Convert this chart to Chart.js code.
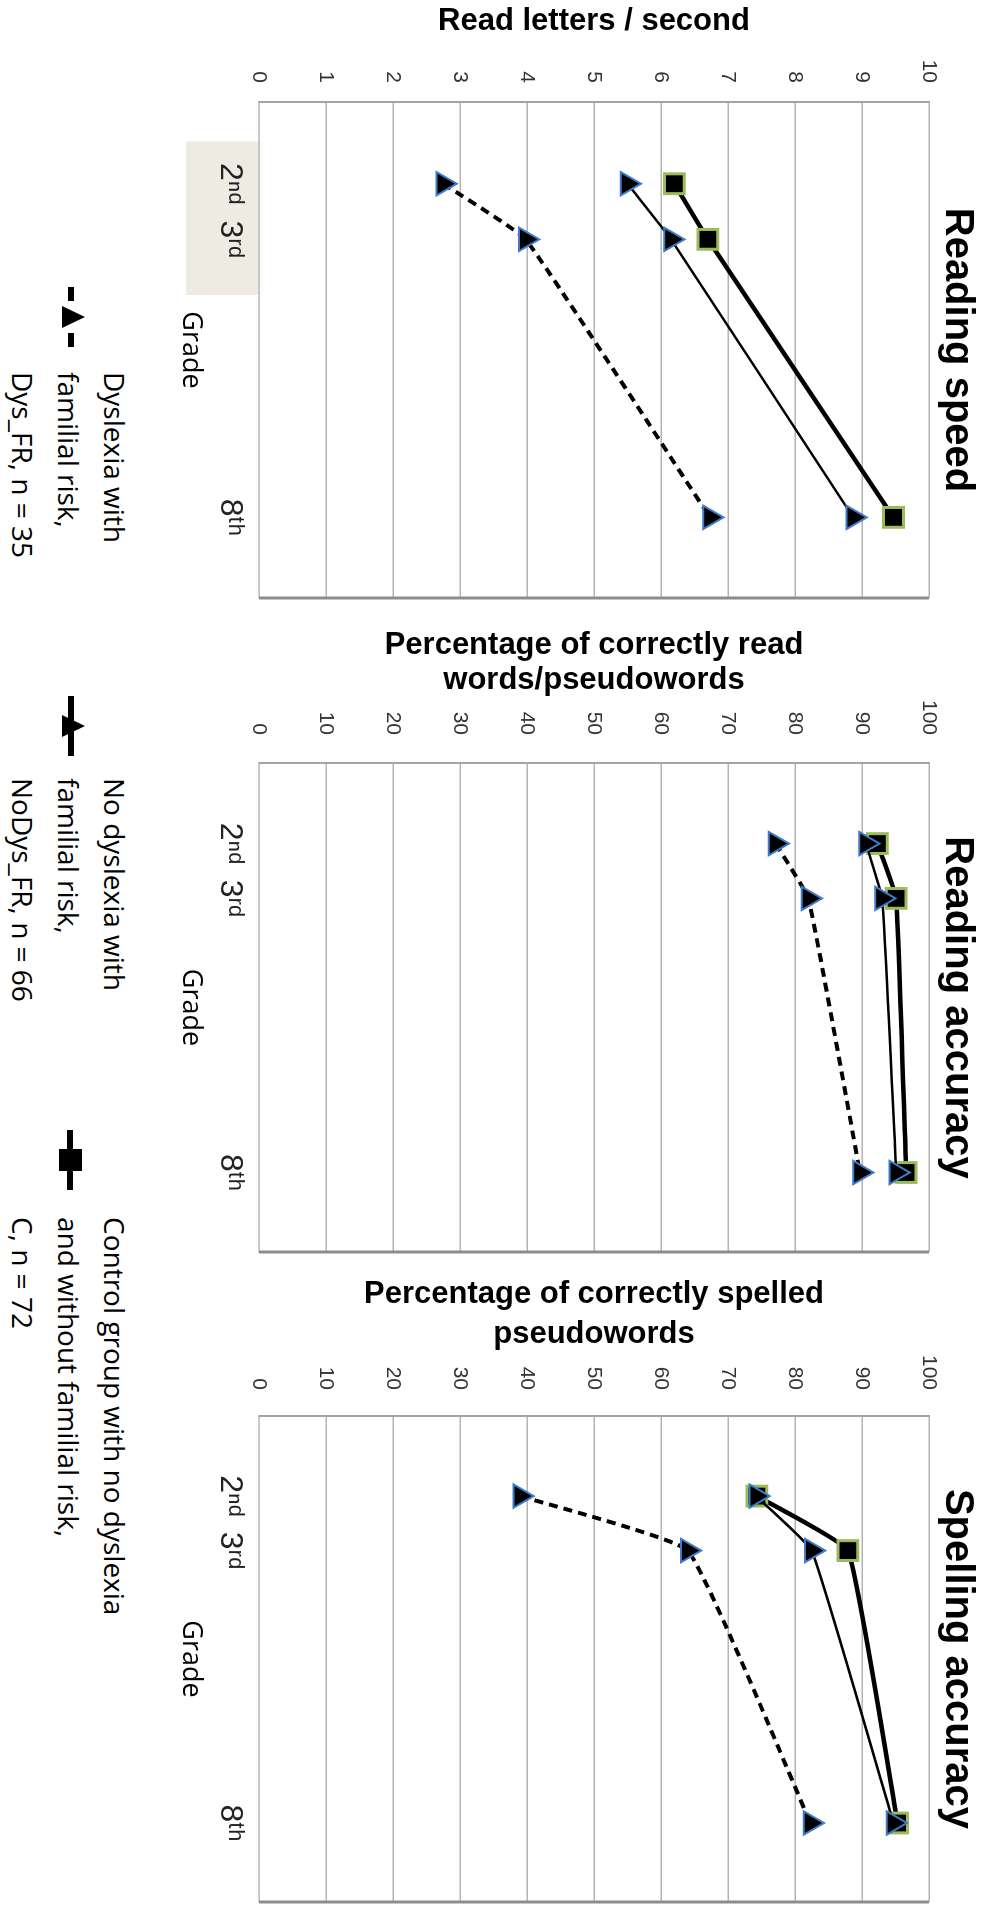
<!doctype html>
<html lang="en">
<head>
<meta charset="utf-8">
<title>Reading speed, reading accuracy and spelling accuracy by grade</title>
<style>
  html, body { margin: 0; padding: 0; background: #fff; }
  body { width: 985px; height: 1910px; overflow: hidden; position: relative; }
  /* the whole figure is laid out landscape and turned a quarter clockwise */
  #frame {
    position: absolute; left: 0; top: 0; width: 1910px; height: 985px;
    transform-origin: 0 0; transform: translate(985px, 0) rotate(90deg);
    overflow: hidden; background: #fff;
  }
  #frame canvas { position: absolute; top: 0; }
  .sym { position: absolute; top: 899px; }
  .legText {
    position: absolute; top: 847px; white-space: nowrap; color: #000;
    font-family: 'Open Sans', sans-serif; font-size: 28px; line-height: 46px;
  }
</style>
</head>
<body>
<div id="frame">
  <canvas id="speedChart" width="663" height="816" style="left:-48px"></canvas>
  <canvas id="accChart" width="656" height="816" style="left:613px"></canvas>
  <canvas id="spellChart" width="653" height="816" style="left:1266px"></canvas>

  <svg class="sym" style="left:287px" width="60" height="32">
    <line x1="0" y1="15" x2="14" y2="15" stroke="#000" stroke-width="6"/>
    <line x1="46" y1="15" x2="60" y2="15" stroke="#000" stroke-width="6"/>
    <polygon points="30,1 41,24 19,24" fill="#000"/>
  </svg>
  <div class="legText" style="left:372px">Dyslexia with<br>familial risk,<br>Dys_FR, n = 35</div>

  <svg class="sym" style="left:696px" width="60" height="32">
    <line x1="0" y1="15" x2="60" y2="15" stroke="#000" stroke-width="6"/>
    <polygon points="30,1 41,24 19,24" fill="#000"/>
  </svg>
  <div class="legText" style="left:778px">No dyslexia with<br>familial risk,<br>NoDys_FR, n = 66</div>

  <svg class="sym" style="left:1130px" width="60" height="32">
    <line x1="0" y1="16" x2="60" y2="16" stroke="#000" stroke-width="6"/>
    <rect x="19" y="4" width="22" height="23" fill="#000"/>
  </svg>
  <div class="legText" style="left:1217px">Control group with no dyslexia<br>and without familial risk,<br>C, n = 72</div>
</div>

<script src="https://cdn.jsdelivr.net/npm/chart.js/dist/chart.umd.min.js"></script>
<script>
// grades on the x axis and their labels
const grades = [2, 3, 8];
const gradeLabels = ['2ⁿᵈ', '3ʳᵈ', '8ᵗʰ'];

// reading speed, letters per second
const speedDys = [2.75, 3.98, 6.73];
const speedNoDys = [5.5, 6.15, 8.87];
const speedC = [6.2, 6.7, 9.47];

// reading accuracy, %
const accDys = [77.1, 82.0, 89.7];
const accNoDys = [90.6, 93.0, 95.1];
const accC = [92.3, 95.1, 96.6];

// spelling accuracy, %
const spellDys = [39.0, 64.0, 82.3];
const spellNoDys = [74.2, 82.5, 94.7];
const spellC = [74.3, 87.9, 95.3];

const SANS = "'Liberation Sans', Arial, sans-serif";

function series(values) {
  return grades.map((g, i) => ({ x: g, y: values[i] }));
}

// beige patch behind the 2nd/3rd labels of the first panel
const highlightBox = {
  id: 'highlightBox',
  beforeDraw(chart, args, opts) {
    if (!opts.on) return;
    const { ctx, chartArea, scales: { x } } = chart;
    const a = x.getPixelForValue(1.24), b = x.getPixelForValue(4.0);
    ctx.save();
    ctx.fillStyle = '#edebe2';
    ctx.fillRect(a, chartArea.bottom, b - a, 73);
    ctx.restore();
  }
};

// darker closing line on the far side of the plot
const edgeLine = {
  id: 'edgeLine',
  beforeDatasetsDraw(chart) {
    const { ctx, chartArea } = chart;
    ctx.save();
    ctx.strokeStyle = '#8c8c8c';
    ctx.lineWidth = 3;
    ctx.beginPath();
    ctx.moveTo(chartArea.right, chartArea.top);
    ctx.lineTo(chartArea.right, chartArea.bottom);
    ctx.stroke();
    ctx.restore();
  }
};

function makeChart(id, p) {
  const datasets = [
    { label: 'NoDys_FR', data: series(p.noDys), order: 0, showLine: true, tension: 0.1,
      borderColor: '#000', borderWidth: 2.5,
      pointStyle: 'triangle', pointRadius: 13.5, pointBackgroundColor: '#000',
      pointBorderColor: '#3d7cc9', pointBorderWidth: 2 },
    { label: 'C', data: series(p.ctrl), order: 1, showLine: true, tension: 0.1,
      borderColor: '#000', borderWidth: 4.5,
      pointStyle: 'rect', pointRadius: 14, pointBackgroundColor: '#000',
      pointBorderColor: '#9bbb59', pointBorderWidth: 3 },
    { label: 'Dys_FR', data: series(p.dys), order: 2, showLine: true, tension: 0.1,
      borderColor: '#000', borderWidth: 4, borderDash: [9, 6],
      pointStyle: 'triangle', pointRadius: 13.5, pointBackgroundColor: '#000',
      pointBorderColor: '#3d7cc9', pointBorderWidth: 2 }
  ];

  return new Chart(document.getElementById(id), {
    type: 'scatter',
    data: { datasets },
    plugins: [highlightBox, edgeLine],
    options: {
      responsive: false,
      animation: false,
      events: [],
      layout: { padding: { left: 0, right: 12, top: 0, bottom: 0 } },
      plugins: {
        legend: { display: false },
        tooltip: { enabled: false },
        highlightBox: { on: !!p.highlight },
        title: {
          display: true, text: p.title, fullSize: false, color: '#000',
          font: { family: SANS, weight: 'bold', size: 40, lineHeight: 1 },
          padding: { top: 8, bottom: 8 }
        }
      },
      scales: {
        x: {
          type: 'linear', min: 0.53, max: 9.45,
          afterBuildTicks: s => { s.ticks = grades.map(v => ({ value: v })); },
          afterFit: s => { s.height = 90; },
          ticks: {
            padding: 10, color: '#222', maxRotation: 0, autoSkip: false,
            font: { family: SANS, size: 32 },
            callback: v => gradeLabels[grades.indexOf(v)]
          },
          grid: { display: true, color: 'rgba(0,0,0,0)', drawTicks: false },
          border: { display: true, color: '#c4c4c4', width: 1.5, dash: [2, 2] },
          title: {
            display: true, text: 'Grade', color: '#000',
            font: { family: "'Open Sans', sans-serif", size: 27, lineHeight: 1.2 },
            padding: { top: 0, bottom: 5 }
          }
        },
        y: {
          min: 0, max: p.max,
          afterFit: s => { s.width = 150; },
          ticks: {
            stepSize: p.step, padding: p.tickPad, color: '#333',
            font: { family: SANS, size: 21 }
          },
          grid: { color: '#b4b4b4', lineWidth: 1.5, drawTicks: false },
          border: { display: true, color: '#a4a4a4', width: 2 },
          title: {
            display: true, text: p.yTitle, color: '#000',
            font: { family: SANS, weight: 'bold', size: 31, lineHeight: p.yLine },
            padding: { top: p.yPad, bottom: 0 }
          }
        }
      }
    }
  });
}

makeChart('speedChart', {
  title: 'Reading speed', yTitle: 'Read letters / second',
  max: 10, step: 1, tickPad: 19, yLine: 1.15, yPad: 52, highlight: true,
  dys: speedDys, noDys: speedNoDys, ctrl: speedC
});

makeChart('accChart', {
  title: 'Reading accuracy', yTitle: ['Percentage of correctly read', 'words/pseudowords'],
  max: 100, step: 10, tickPad: 28, yLine: 1.16, yPad: 14,
  dys: accDys, noDys: accNoDys, ctrl: accC
});

makeChart('spellChart', {
  title: 'Spelling accuracy', yTitle: ['Percentage of correctly spelled', 'pseudowords'],
  max: 100, step: 10, tickPad: 26, yLine: 1.3, yPad: 8,
  dys: spellDys, noDys: spellNoDys, ctrl: spellC
});
</script>
</body>
</html>
